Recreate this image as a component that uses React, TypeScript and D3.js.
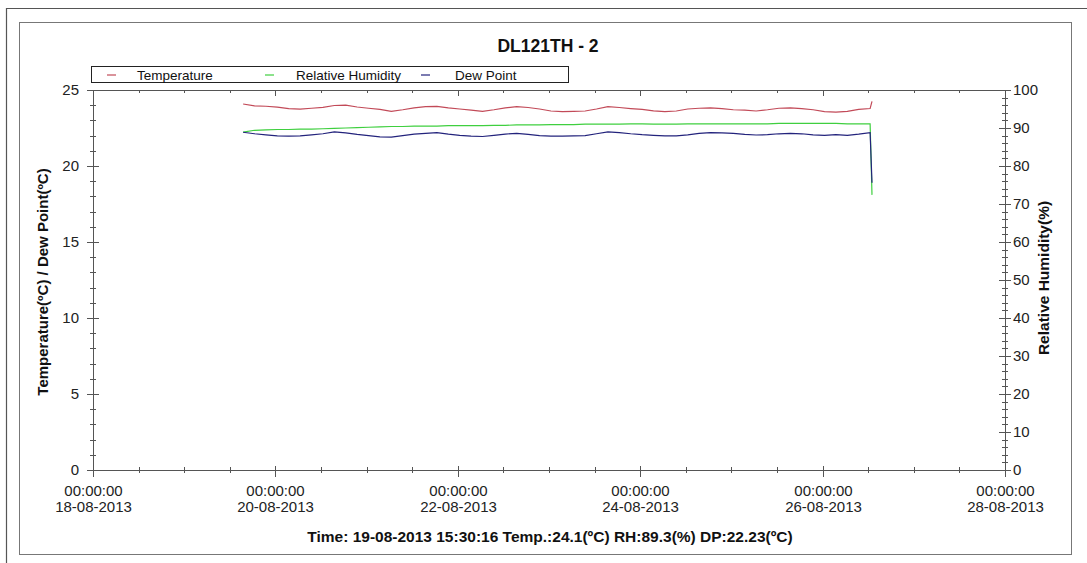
import React from 'react';
import * as d3 from 'd3';

// Logger samples, every 3 hours from 19-08-2013 15:30:16, last one is the unplug drop
const temperature = [
  24.08, 23.95, 23.93, 23.87, 23.78, 23.74, 23.8, 23.86, 23.98, 24.0,
  23.88, 23.8, 23.72, 23.6, 23.7, 23.82, 23.9, 23.92, 23.82, 23.75,
  23.68, 23.6, 23.7, 23.82, 23.9, 23.85, 23.75, 23.62, 23.58, 23.6,
  23.62, 23.75, 23.9, 23.85, 23.78, 23.72, 23.63, 23.58, 23.62, 23.75,
  23.8, 23.82, 23.78, 23.7, 23.68, 23.62, 23.7, 23.8, 23.82, 23.78,
  23.7, 23.58, 23.55, 23.6, 23.72, 23.78, 24.25,
];
const humidity = [
  88.9, 89.4, 89.5, 89.6, 89.6, 89.7, 89.7, 89.8, 89.9, 90.0,
  90.1, 90.2, 90.3, 90.4, 90.4, 90.5, 90.5, 90.5, 90.6, 90.6,
  90.6, 90.6, 90.7, 90.7, 90.8, 90.8, 90.8, 90.9, 90.9, 90.9,
  91.0, 91.0, 91.0, 91.0, 91.1, 91.1, 91.0, 91.0, 91.0, 91.1,
  91.1, 91.1, 91.1, 91.1, 91.1, 91.1, 91.1, 91.2, 91.2, 91.2,
  91.2, 91.2, 91.2, 91.1, 91.1, 91.1, 72.4,
];
const dewPoint = [
  22.22, 22.12, 22.05, 21.98, 21.96, 21.98, 22.05, 22.12, 22.25, 22.18,
  22.08, 22.0, 21.92, 21.9, 22.0, 22.1, 22.15, 22.2, 22.1, 22.02,
  21.96, 21.94, 22.02, 22.1, 22.15, 22.08, 22.0, 21.97, 21.96, 21.98,
  22.0, 22.12, 22.24, 22.2, 22.12, 22.06, 22.02, 21.98, 21.98, 22.05,
  22.15, 22.2, 22.18, 22.15, 22.08, 22.04, 22.06, 22.12, 22.15, 22.12,
  22.05, 22.02, 22.06, 22.02, 22.1, 22.2, 18.9,
];
const firstSample = new Date(2013, 7, 19, 15, 30, 16);
const sampleStepHours = 3;
const lastSample = new Date(2013, 7, 26, 13, 0, 0);

const xTickDates = ['18-08-2013', '20-08-2013', '22-08-2013', '24-08-2013', '26-08-2013', '28-08-2013'];
const leftTicks = [0, 5, 10, 15, 20, 25];
const rightTicks = [0, 10, 20, 30, 40, 50, 60, 70, 80, 90, 100];

const seriesInfo = [
  { name: 'Temperature', color: '#c24a58', values: temperature, axis: 'left' },
  { name: 'Relative Humidity', color: '#3fcf3f', values: humidity, axis: 'right' },
  { name: 'Dew Point', color: '#23237c', values: dewPoint, axis: 'left' },
];

const FONT = 'Arial, "Liberation Sans", sans-serif';

const parseDay = d3.timeParse('%d-%m-%Y');

export default function App() {
  const width = 1087;
  const height = 563;
  const plot = { left: 93, right: 1005, top: 90, bottom: 470 };

  const x = d3.scaleTime()
    .domain([parseDay(xTickDates[0])!, parseDay(xTickDates[xTickDates.length - 1])!])
    .range([plot.left, plot.right]);
  const yLeft = d3.scaleLinear().domain([0, 25]).range([plot.bottom, plot.top]);
  const yRight = d3.scaleLinear().domain([0, 100]).range([plot.bottom, plot.top]);

  const times = temperature.map((_, i) =>
    i === temperature.length - 1 ? lastSample : d3.timeHour.offset(firstSample, i * sampleStepHours)
  );

  const minorX = d3.timeHour.every(12)!.range(x.domain()[0], d3.timeHour.offset(x.domain()[1], 1));
  const minorLeft = d3.range(0, 26, 1);
  const minorRight = d3.range(0, 101, 2);

  const majorXDates = xTickDates.map(d => parseDay(d)!);

  return (
    <svg width={width} height={height}
      style={{ position: 'absolute', left: 0, top: 0, background: '#fff' }}
      fontFamily={FONT}>
      <rect x={0} y={0} width={width} height={height} fill="#fff" />
      {/* outer window frame */}
      <path d={`M6.5,${height} V8.5 H${width}`} fill="none" stroke="#555" strokeWidth={1.2} />
      <rect x={19.5} y={22.5} width={1052} height={532} fill="#fff" stroke="#777" strokeWidth={1} />

      {/* title */}
      <text x={548} y={52} textAnchor="middle" fontSize={17.5} fontWeight="bold" fill="#111">DL121TH - 2</text>

      {/* legend */}
      <rect x={91.5} y={66.5} width={477} height={16} fill="#fff" stroke="#222" strokeWidth={1} />
      {seriesInfo.map((s, i) => {
        const lx = [107, 265, 421][i];
        const tx = [137, 296, 455][i];
        return (
          <g key={s.name}>
            <line x1={lx} x2={lx + 9} y1={75} y2={75} stroke={s.color} strokeWidth={1.2} />
            <text x={tx} y={79.5} fontSize={13.5} fill="#111">{s.name}</text>
          </g>
        );
      })}

      {/* plot frame */}
      <line x1={plot.left} x2={plot.right} y1={plot.top + 0.5} y2={plot.top + 0.5} stroke="#555" />
      <line x1={plot.left} x2={plot.right} y1={plot.bottom + 0.5} y2={plot.bottom + 0.5} stroke="#555" />
      <line x1={plot.left + 0.5} x2={plot.left + 0.5} y1={plot.top} y2={plot.bottom} stroke="#555" />
      <line x1={plot.right + 0.5} x2={plot.right + 0.5} y1={plot.top} y2={plot.bottom} stroke="#555" />

      {/* x ticks */}
      {minorX.map((d, i) => {
        const px = Math.round(x(d)) + 0.5;
        return (
          <g key={'mx' + i} stroke="#555">
            <line x1={px} x2={px} y1={plot.bottom - 3} y2={plot.bottom + 3} />
            <line x1={px} x2={px} y1={plot.top} y2={plot.top + 3} />
          </g>
        );
      })}
      {majorXDates.map((d, i) => {
        const px = Math.round(x(d)) + 0.5;
        return (
          <g key={'Mx' + i}>
            <line x1={px} x2={px} y1={plot.bottom - 4} y2={plot.bottom + 7} stroke="#555" />
            <line x1={px} x2={px} y1={plot.top} y2={plot.top + 6} stroke="#555" />
            <text x={px} y={496} textAnchor="middle" fontSize={15} fill="#222">{d3.timeFormat('%H:%M:%S')(d)}</text>
            <text x={px} y={512} textAnchor="middle" fontSize={15} fill="#222">{xTickDates[i]}</text>
          </g>
        );
      })}

      {/* left axis ticks */}
      {minorLeft.map(v => {
        const py = Math.round(yLeft(v)) + 0.5;
        const major = v % 5 === 0;
        return (
          <line key={'ml' + v} x1={plot.left - (major ? 6 : 3)} x2={plot.left + (major ? 6 : 3)} y1={py} y2={py} stroke="#555" />
        );
      })}
      {leftTicks.map(v => (
        <text key={'tl' + v} x={79} y={yLeft(v) + 5} textAnchor="end" fontSize={15} fill="#222">{v}</text>
      ))}

      {/* right axis ticks */}
      {minorRight.map(v => {
        const py = Math.round(yRight(v)) + 0.5;
        const major = v % 10 === 0;
        return (
          <line key={'mr' + v} x1={plot.right - (major ? 6 : 3)} x2={plot.right + (major ? 6 : 3)} y1={py} y2={py} stroke="#555" />
        );
      })}
      {rightTicks.map(v => (
        <text key={'tr' + v} x={1013} y={yRight(v) + 5} textAnchor="start" fontSize={15} fill="#222">{v}</text>
      ))}

      {/* axis titles */}
      <text transform={`translate(48,${(plot.top + plot.bottom) / 2 + 2}) rotate(-90)`} textAnchor="middle"
        fontSize={15} fontWeight="bold" fill="#111">Temperature(ºC) / Dew Point(ºC)</text>
      <text transform={`translate(1049,${(plot.top + plot.bottom) / 2 - 2}) rotate(-90)`} textAnchor="middle"
        fontSize={15.5} fontWeight="bold" fill="#111">Relative Humidity(%)</text>

      {/* series */}
      {seriesInfo.map(s => {
        const yScale = s.axis === 'left' ? yLeft : yRight;
        const line = d3.line<number>()
          .x((_, i) => x(times[i]))
          .y(v => yScale(v));
        return (
          <path key={s.name} d={line(s.values) || ''} fill="none" stroke={s.color} strokeWidth={1.2} />
        );
      })}

      {/* readout */}
      <text x={550} y={542} textAnchor="middle" fontSize={15.5} fontWeight="bold" fill="#111">
        Time: 19-08-2013 15:30:16 Temp.:24.1(ºC) RH:89.3(%) DP:22.23(ºC)
      </text>
    </svg>
  );
}
